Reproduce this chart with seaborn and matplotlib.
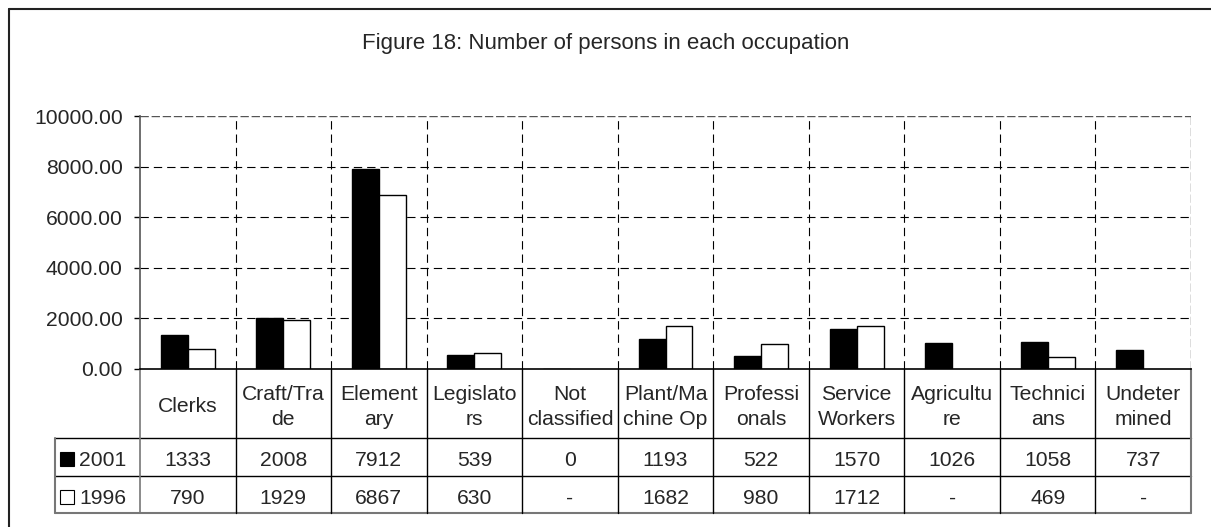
import pandas as pd
import numpy as np
import matplotlib
matplotlib.use("Agg")
import matplotlib.pyplot as plt
import matplotlib.transforms as mtransforms
from matplotlib.lines import Line2D
from matplotlib.patches import Rectangle
import seaborn as sns

# Données
occupations = ["Clerks", "Craft/Trade", "Elementary", "Legislators", "Not classified",
               "Plant/Machine Op", "Professionals", "Service Workers", "Agriculture",
               "Technicians", "Undetermined"]
# libellés tels qu'ils sont coupés dans le tableau
occupation_labels = ["Clerks", "Craft/Tra\nde", "Element\nary", "Legislato\nrs", "Not\nclassified",
                     "Plant/Ma\nchine Op", "Professi\nonals", "Service\nWorkers", "Agricultu\nre",
                     "Technici\nans", "Undeter\nmined"]
values_2001 = [1333, 2008, 7912, 539, 0, 1193, 522, 1570, 1026, 1058, 737]
values_1996 = [790, 1929, 6867, 630, None, 1682, 980, 1712, None, 469, None]
years = ["2001", "1996"]
y_ticks = [0, 2000, 4000, 6000, 8000, 10000]

W, H = 1211, 527
sns.set_style("white")
plt.rcParams['font.family'] = ['Liberation Sans', 'DejaVu Sans']
FS = 15.2

rows = []
for occ, a, b in zip(occupations, values_2001, values_1996):
    rows.append({"occupation": occ, "year": "2001", "persons": a})
    if b is not None:
        rows.append({"occupation": occ, "year": "1996", "persons": b})
df = pd.DataFrame(rows)

fig = plt.figure(figsize=(W / 100, H / 100), dpi=100)
ax = fig.add_axes([140 / W, 1 - 369 / H, (1191 - 140) / W, (369 - 116) / H])

sns.barplot(data=df, x="occupation", y="persons", hue="year", order=occupations,
            hue_order=years, palette={"2001": "black", "1996": "white"},
            edgecolor="black", linewidth=1.0, width=0.565, legend=False, ax=ax)

n = len(occupations)
ax.set_xlim(-0.5, n - 0.5)
ax.set_ylim(0, 10000)
ax.set_yticks(y_ticks)
ax.set_yticklabels([f"{v:.2f}" for v in y_ticks], fontsize=FS)
ax.set_xticks([])
ax.set_xlabel("")
ax.set_ylabel("")
ax.tick_params(axis="y", direction="out", length=4.5, width=1, pad=8.0, left=True, color="black")

# grille pointillée (le haut et la droite du cadre aussi)
dash = (0, (7.5, 4.5))
ax.hlines(y_ticks[1:-1], -0.5, n - 0.5, colors="black", linestyles=dash, linewidth=0.8, zorder=0)
ax.hlines([10000], -0.5, n - 0.5, colors="#555555", linestyles=(0, (6, 2)), linewidth=1.0, zorder=0)
ax.vlines(np.arange(n - 1) + 0.5, 0, 10000, colors="black", linestyles=dash, linewidth=0.8, zorder=0)
ax.vlines([n - 0.5], 0, 10000, colors="#555555", linestyles=(0, (6, 2)), linewidth=1.0, zorder=0)
for s in ["top", "right"]:
    ax.spines[s].set_visible(False)
ax.spines["left"].set_color("#555555")
ax.spines["left"].set_linewidth(1.2)
ax.spines["bottom"].set_color("black")
ax.spines["bottom"].set_linewidth(1.2)

# tableau de données sous l'axe
tr = mtransforms.blended_transform_factory(ax.transData, ax.transAxes)
ph = 369 - 116
def yax(py):
    return (369 - py) / ph

x_lab = -0.5 - (140 - 55) / ((1191 - 140) / n)
y_cat, y_r1, y_r2, y_bot = yax(369), yax(438), yax(476), yax(513)

lines = [
    ([x_lab, n - 0.5], [y_r1, y_r1], "black", 1.0),
    ([x_lab, n - 0.5], [y_r2, y_r2], "black", 1.0),
    ([x_lab, n - 0.5], [y_bot, y_bot], "#777777", 1.5),
    ([x_lab, x_lab], [y_r1, y_bot], "#777777", 1.5),
    ([-0.5, -0.5], [y_cat, y_bot], "#777777", 1.2),
    ([n - 0.5, n - 0.5], [y_cat, y_bot], "#777777", 1.5),
]
for i in range(n - 1):
    lines.append(([i + 0.5, i + 0.5], [y_cat, y_bot], "black", 1.0))
for xs, ys, c, lw in lines:
    ax.add_line(Line2D(xs, ys, transform=tr, color=c, linewidth=lw, clip_on=False))

for i, lab in enumerate(occupation_labels):
    ax.text(i, yax(407), lab, transform=tr, ha="center", va="center",
            fontsize=FS, linespacing=1.45, clip_on=False)
    ax.text(i, yax(460), str(values_2001[i]), transform=tr, ha="center", va="center",
            fontsize=FS, clip_on=False)
    b = values_1996[i]
    ax.text(i, yax(498), "-" if b is None else str(b), transform=tr, ha="center",
            va="center", fontsize=FS, clip_on=False)

# clés de légende dans la colonne de gauche
for year, yc, fc in [("2001", 460, "black"), ("1996", 498, "white")]:
    fig.patches.append(Rectangle((60 / W, 1 - (yc + 6) / H), 14 / W, 14 / H,
                                 transform=fig.transFigure, facecolor=fc,
                                 edgecolor="black", linewidth=0.8))
    fig.text(79 / W, 1 - (yc + 1) / H, year, ha="left", va="center", fontsize=FS)

# titre
fig.text(0.5, 1 - 44 / H, "Figure 18: Number of persons in each occupation",
         ha="center", va="center", fontsize=16)

# cadre extérieur (coupé à droite et en bas)
fig.add_artist(Line2D([9 / W, 9 / W], [0, 1 - 9 / H], transform=fig.transFigure,
                      color="#222222", linewidth=1.5))
fig.add_artist(Line2D([9 / W, 1], [1 - 9 / H, 1 - 9 / H], transform=fig.transFigure,
                      color="#222222", linewidth=1.5))

plt.savefig("out.png", dpi=100)
plt.close()
